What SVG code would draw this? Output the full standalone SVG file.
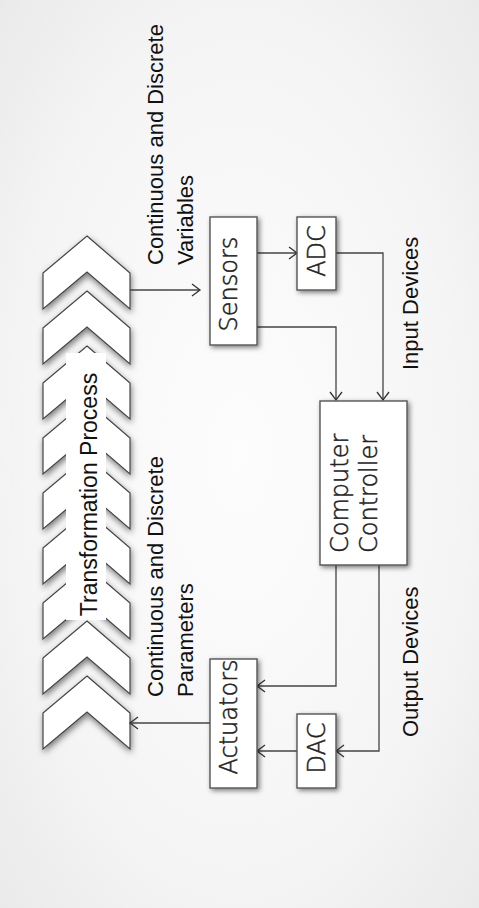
<svg xmlns="http://www.w3.org/2000/svg" xmlns:xlink="http://www.w3.org/1999/xlink" width="479" height="908" viewBox="0 0 479 908">
  <defs>
    <radialGradient id="bg" cx="50%" cy="50%" r="75%">
      <stop offset="0" stop-color="#fdfdfd"/>
      <stop offset="0.6" stop-color="#f5f5f5"/>
      <stop offset="1" stop-color="#e8e8e8"/>
    </radialGradient>
    <filter id="shadow" x="-30%" y="-30%" width="160%" height="160%">
      <feDropShadow dx="2" dy="2" stdDeviation="2.5" flood-color="#000" flood-opacity="0.5"/>
    </filter>
    <filter id="cshadow" x="-30%" y="-30%" width="160%" height="160%">
      <feDropShadow dx="1" dy="3" stdDeviation="3" flood-color="#000" flood-opacity="0.5"/>
    </filter>
    <path id="chev" d="M87,0 L130,37 L130,73 L87,36 L43,73 L43,37 Z"/>
    <marker id="arr" markerWidth="10" markerHeight="14" refX="8" refY="6" orient="auto" markerUnits="userSpaceOnUse" overflow="visible">
      <path d="M0,0 L8,6 L0,12" fill="none" stroke="#333" stroke-width="1.3"/>
    </marker>
  </defs>
  <style>
    .chev { fill: #ffffff; stroke: #444; stroke-width: 1.2; filter: url(#cshadow); }
    .box { fill: #ffffff; stroke: #555; stroke-width: 1.4; filter: url(#shadow); }
    .btxt { font-family: "DejaVu Sans", "Open Sans", sans-serif; font-weight: 200; font-size: 24px; fill: #222; stroke: #222; stroke-width: 0.5; }
    .lbl { font-family: "Liberation Sans", Arial, sans-serif; font-size: 22px; fill: #111; }
    .conn { fill: none; stroke: #444; stroke-width: 1.3; marker-end: url(#arr); }
  </style>
  <rect x="0" y="0" width="479" height="908" fill="url(#bg)"/>

  <g id="transformation-process">
    <use xlink:href="#chev" href="#chev" y="236" class="chev"/>
    <use xlink:href="#chev" href="#chev" y="291" class="chev"/>
    <use xlink:href="#chev" href="#chev" y="346" class="chev"/>
    <use xlink:href="#chev" href="#chev" y="401" class="chev"/>
    <use xlink:href="#chev" href="#chev" y="456" class="chev"/>
    <use xlink:href="#chev" href="#chev" y="511" class="chev"/>
    <use xlink:href="#chev" href="#chev" y="566" class="chev"/>
    <use xlink:href="#chev" href="#chev" y="621" class="chev"/>
    <use xlink:href="#chev" href="#chev" y="676" class="chev"/>
    <rect x="66" y="353" width="40" height="267" fill="#ffffff"/>
    <text class="lbl" style="font-size:23px" text-anchor="middle" transform="translate(97,494.5) rotate(-90)">Transformation Process</text>
  </g>

  <g id="connectors">
    <path class="conn" d="M130,290 H200"/>
    <path class="conn" d="M257,253 H297"/>
    <path class="conn" d="M257,327 H336 V400"/>
    <path class="conn" d="M336,253 H383 V400"/>
    <path class="conn" d="M336,565 V686 H257"/>
    <path class="conn" d="M379,565 V751 H336"/>
    <path class="conn" d="M297,751 H257"/>
    <path class="conn" d="M210,723 H130"/>
  </g>

  <g id="sensors">
    <rect class="box" x="210" y="217" width="47" height="128"/>
    <text class="btxt" text-anchor="middle" transform="translate(237,284) rotate(-90)">Sensors</text>
  </g>
  <g id="adc">
    <rect class="box" x="297" y="217" width="39" height="73"/>
    <text class="btxt" text-anchor="middle" transform="translate(325,251) rotate(-90)">ADC</text>
  </g>
  <g id="computer-controller">
    <rect class="box" x="320" y="401" width="87" height="164"/>
    <text class="btxt" text-anchor="start" transform="translate(348,553) rotate(-90)">Computer</text>
    <text class="btxt" text-anchor="start" transform="translate(377,553) rotate(-90)">Controller</text>
  </g>
  <g id="actuators">
    <rect class="box" x="210" y="659" width="47" height="129"/>
    <text class="btxt" text-anchor="middle" transform="translate(237,717) rotate(-90)">Actuators</text>
  </g>
  <g id="dac">
    <rect class="box" x="297" y="714" width="39" height="74"/>
    <text class="btxt" text-anchor="middle" transform="translate(325,748) rotate(-90)">DAC</text>
  </g>

  <g id="label-variables">
    <text class="lbl" transform="translate(163,265) rotate(-90)">Continuous and Discrete</text>
    <text class="lbl" transform="translate(193,265) rotate(-90)">Variables</text>
  </g>
  <g id="label-parameters">
    <text class="lbl" transform="translate(163,697) rotate(-90)">Continuous and Discrete</text>
    <text class="lbl" transform="translate(193,697) rotate(-90)">Parameters</text>
  </g>
  <g id="label-input">
    <text class="lbl" transform="translate(418,370) rotate(-90)">Input Devices</text>
  </g>
  <g id="label-output">
    <text class="lbl" transform="translate(418,737) rotate(-90)">Output Devices</text>
  </g>
</svg>
